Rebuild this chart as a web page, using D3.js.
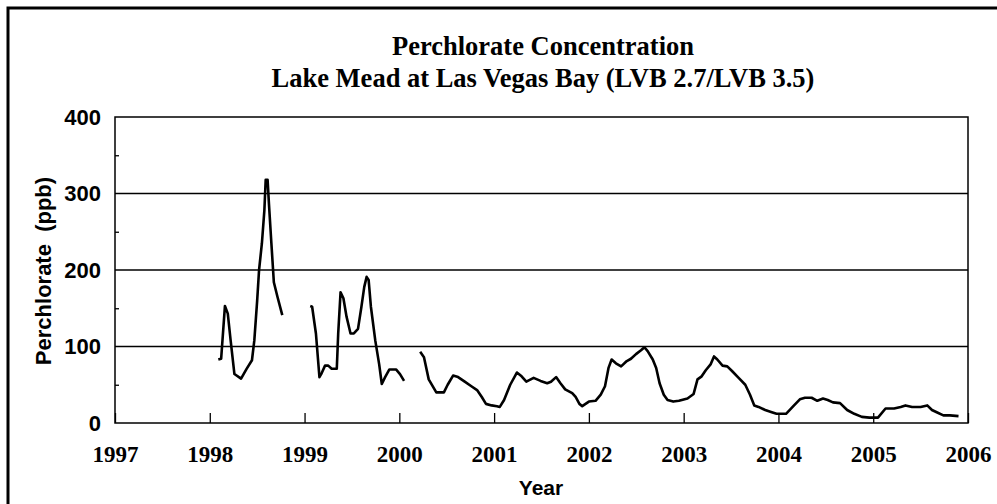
<!DOCTYPE html>
<html>
<head>
<meta charset="utf-8">
<script src="https://cdn.jsdelivr.net/npm/d3@7"></script>
<style>
  body { margin: 0; background: #fff; }
  svg { display: block; }
</style>
</head>
<body>
<div id="chart"></div>
<script>
// sample dates (decimal years) and perchlorate (ppb); null marks a gap in sampling
var sampleYears = [
  1998.09, 1998.12, 1998.16, 1998.19, 1998.22, 1998.26, 1998.33, 1998.39, 1998.445, 1998.47,
  1998.50, 1998.52, 1998.55, 1998.576, 1998.59, 1998.61, 1998.624, 1998.65, 1998.676, 1998.714,
  1998.765, 1998.9,
  1999.06, 1999.08, 1999.12, 1999.157, 1999.18, 1999.216, 1999.25, 1999.286, 1999.34, 1999.355,
  1999.38, 1999.41, 1999.443, 1999.485, 1999.52, 1999.564, 1999.60, 1999.63, 1999.655, 1999.676,
  1999.70, 1999.746, 1999.787, 1999.815, 1999.85, 1999.895, 1999.965, 2000.007, 2000.05, 2000.15,
  2000.22, 2000.26, 2000.31, 2000.39, 2000.47, 2000.51, 2000.567, 2000.62, 2000.69, 2000.76,
  2000.82, 2000.87, 2000.914, 2000.974, 2001.03, 2001.06, 2001.105, 2001.17, 2001.24, 2001.29,
  2001.34, 2001.417, 2001.49, 2001.56, 2001.60, 2001.654, 2001.70, 2001.75, 2001.824, 2001.86,
  2001.90, 2001.93, 2002.0, 2002.07, 2002.125, 2002.17, 2002.207, 2002.24, 2002.285, 2002.34,
  2002.40, 2002.444, 2002.497, 2002.55, 2002.586, 2002.62, 2002.674, 2002.71, 2002.746, 2002.79,
  2002.83, 2002.89, 2002.95, 2003.04, 2003.105, 2003.146, 2003.19, 2003.233, 2003.286, 2003.32,
  2003.355, 2003.41, 2003.46, 2003.51, 2003.58, 2003.65, 2003.70, 2003.745, 2003.79, 2003.86,
  2003.93, 2003.98, 2004.08, 2004.157, 2004.226, 2004.28, 2004.35, 2004.41, 2004.47, 2004.52,
  2004.575, 2004.65, 2004.725, 2004.80, 2004.88, 2004.96, 2005.05, 2005.13, 2005.22, 2005.29,
  2005.34, 2005.41, 2005.50, 2005.57, 2005.62, 2005.67, 2005.74, 2005.81, 2005.90
];
var perchlorate = [
  83, 84, 153, 143, 108, 64, 58, 71, 82, 108,
  160, 200, 235, 278, 318, 318, 287, 235, 184, 165,
  141, null,
  153, 152, 117, 60, 65, 75, 75, 71, 71, 117,
  171, 163, 139, 117, 117, 123, 152, 178, 191, 187,
  152, 108, 77, 51, 60, 70, 70, 64, 55, null,
  93, 86, 57, 40, 40, 50, 62, 60, 54, 48,
  43, 34, 25, 23, 22, 21, 30, 50, 66, 61,
  54, 59, 55, 52, 54, 60, 52, 44, 39, 34,
  25, 22, 28, 29, 37, 48, 72, 83, 78, 74,
  81, 84, 90, 95, 99, 94, 83, 72, 52, 37,
  30, 28, 29, 32, 38, 57, 61, 69, 77, 87,
  83, 75, 74, 68, 59, 50, 37, 23, 21, 17,
  14, 12, 12, 22, 31, 33, 33, 29, 32, 30,
  27, 26, 17, 12, 8, 7, 7, 19, 19, 21,
  23, 21, 21, 23, 17, 14, 10, 10, 9
];
var yearTicks = [1997, 1998, 1999, 2000, 2001, 2002, 2003, 2004, 2005, 2006];
var valueTicks = [0, 100, 200, 300, 400];
var minorTicks = [50, 150, 250, 350];
var gridValues = [100, 200, 300];
var titleLines = ["Perchlorate Concentration", "Lake Mead at Las Vegas Bay (LVB 2.7/LVB 3.5)"];

var width = 997, height = 504;
var plotLeft = 115, plotRight = 968, plotTop = 117, plotBottom = 423;
var serif = "'Liberation Serif','Times New Roman',serif";
var sans = "'Liberation Sans',Arial,sans-serif";

var svg = d3.select("#chart").append("svg").attr("width", width).attr("height", height);

// outer frame, only left and top edges fall inside the window
svg.append("rect")
  .attr("x", 8).attr("y", 8)
  .attr("width", width + 20).attr("height", height + 20)
  .attr("fill", "none").attr("stroke", "black").attr("stroke-width", 3);

var xScale = d3.scaleLinear().domain([1997, 2006]).range([plotLeft, plotRight]);
var yScale = d3.scaleLinear().domain([0, 400]).range([plotBottom, plotTop]);

// title
svg.selectAll(".title").data(titleLines).enter().append("text")
  .attr("class", "title")
  .attr("x", 543)
  .attr("y", function(d, i) { return 55 + i * 32; })
  .attr("text-anchor", "middle")
  .attr("font-family", serif).attr("font-weight", "bold").attr("font-size", "26.5px")
  .text(function(d) { return d; });

// gridlines
svg.selectAll(".grid").data(gridValues).enter().append("line")
  .attr("x1", plotLeft).attr("x2", plotRight)
  .attr("y1", function(d) { return yScale(d); })
  .attr("y2", function(d) { return yScale(d); })
  .attr("stroke", "black").attr("stroke-width", 1.3);

// x axis: ticks point up into the plot
var xAxis = svg.append("g").attr("transform", "translate(0," + plotBottom + ")")
  .call(d3.axisBottom(xScale).tickValues(yearTicks).tickFormat(d3.format("d")).tickSize(-10).tickPadding(23));
xAxis.select(".domain").remove();
xAxis.selectAll("line").attr("stroke", "black").attr("stroke-width", 1.3);
xAxis.selectAll("text")
  .attr("font-family", serif).attr("font-weight", "bold").attr("font-size", "23px").attr("fill", "black");

// y axis labels
var yAxis = svg.append("g").attr("transform", "translate(" + plotLeft + ",0)")
  .call(d3.axisLeft(yScale).tickValues(valueTicks).tickSize(0).tickPadding(14));
yAxis.select(".domain").remove();
yAxis.selectAll("text")
  .attr("font-family", sans).attr("font-weight", "bold").attr("font-size", "22px").attr("fill", "black");

// minor y ticks, inside
var yMinor = svg.append("g").attr("transform", "translate(" + plotLeft + ",0)")
  .call(d3.axisLeft(yScale).tickValues(minorTicks).tickSize(-4).tickFormat(""));
yMinor.select(".domain").remove();
yMinor.selectAll("line").attr("stroke", "black").attr("stroke-width", 1.3);

// plot frame
svg.append("rect")
  .attr("x", plotLeft).attr("y", plotTop)
  .attr("width", plotRight - plotLeft).attr("height", plotBottom - plotTop)
  .attr("fill", "none").attr("stroke", "black").attr("stroke-width", 1.5);

// data line
var points = sampleYears.map(function(d, i) { return [d, perchlorate[i]]; });
var line = d3.line()
  .defined(function(d) { return d[1] != null; })
  .x(function(d) { return xScale(d[0]); })
  .y(function(d) { return yScale(d[1]); });
svg.append("path")
  .datum(points)
  .attr("d", line)
  .attr("fill", "none")
  .attr("stroke", "black")
  .attr("stroke-width", 2.6)
  .attr("stroke-linejoin", "round");

// axis titles
svg.append("text")
  .attr("x", 541).attr("y", 495)
  .attr("text-anchor", "middle")
  .attr("font-family", sans).attr("font-weight", "bold").attr("font-size", "21px")
  .text("Year");

svg.append("text")
  .attr("transform", "translate(51,271) rotate(-90)")
  .attr("text-anchor", "middle")
  .attr("font-family", sans).attr("font-weight", "bold").attr("font-size", "22px")
  .attr("xml:space", "preserve")
  .style("white-space", "pre")
  .text("Perchlorate  (ppb)");
</script>
</body>
</html>
